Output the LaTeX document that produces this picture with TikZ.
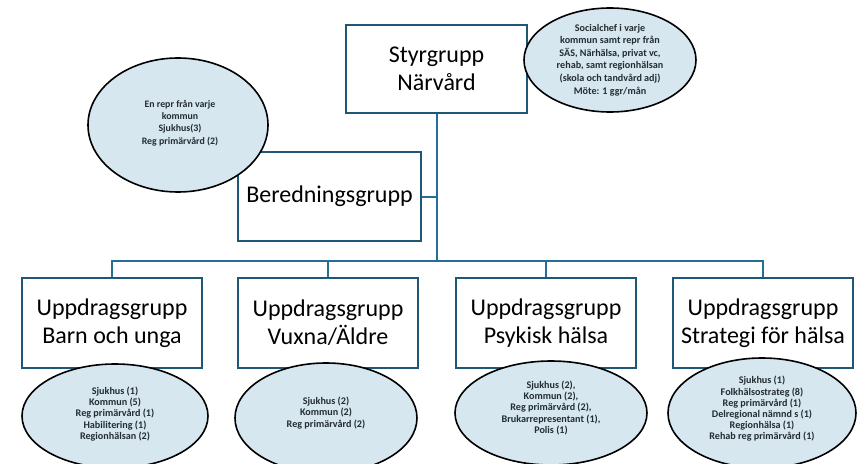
\documentclass[tikz,border=0pt]{standalone}
\usepackage{fontspec}
\setmainfont{Carlito}
\usetikzlibrary{shapes.geometric}

\definecolor{boxblue}{RGB}{30,88,118}
\definecolor{linkblue}{RGB}{38,110,148}
\definecolor{ovalfill}{RGB}{214,231,240}
\definecolor{ovaltext}{RGB}{35,45,50}

\tikzset{every picture/.style={line width=0.75pt}}
\tikzset{
  grpbox/.style={draw=boxblue, line width=1.5pt, fill=white, align=center, inner sep=0pt,
    minimum width=135pt, minimum height=67.5pt, font=\fontsize{18}{21}\selectfont},
  oval/.style={ellipse, draw=black, line width=1.2pt, fill=ovalfill, inner sep=0pt},
  ovallist/.style={align=center, inner sep=0pt, text=ovaltext,
    font=\fontsize{7.6}{8.4}\selectfont\bfseries},
  link/.style={draw=linkblue, line width=1.5pt}
}

\begin{document}
\begin{tikzpicture}[x=0.75pt,y=0.75pt,yscale=-1,xscale=1]
	\useasboundingbox (0,0) rectangle (858,464);

	%Shape: Rectangle [styrgrupp]
	\node [grpbox, minimum width=135.8pt, minimum height=66pt] (styr) at (436.5,69) {Styrgrupp\\Närvård};
	%Shape: Rectangle [beredningsgrupp]
	\node [grpbox, minimum width=137.3pt, minimum height=66.8pt] (bered) at (329.5,196.5) {Beredningsgrupp};
	%Shape: Rectangle [uppdragsgrupper]
	\node [grpbox] (barn) at (112,323) {Uppdragsgrupp\\Barn och unga};
	\node [grpbox] (vuxna) at (328,323) {Uppdragsgrupp\\Vuxna/Äldre};
	\node [grpbox] (psyk) at (546,323) {Uppdragsgrupp\\Psykisk hälsa};
	\node [grpbox] (strat) at (763,323) {Uppdragsgrupp\\Strategi för hälsa};

	%Straight Lines [tree]
	\coordinate (bus) at (436.5,261);
	\draw [link] (styr.south) -- (bus);
	\draw [link] (bered.east) -- (bered.east -| bus);
	\foreach \grp in {barn,vuxna,psyk,strat}
		\draw [link] (\grp.north) |- (bus);

	%Shape: Ellipse [styrgrupp members]
	\node [oval, minimum width=129pt, minimum height=78pt] (styrmed) at (610,60) {};
	\node [ovallist, font=\fontsize{7.6}{9.4}\selectfont\bfseries] (styrtxt) at (styrmed) {Socialchef i varje\\kommun samt repr från\\SÄS, Närhälsa, privat vc,\\rehab, samt regionhälsan\\(skola och tandvård adj)\\Möte: 1 ggr/mån};
	%Shape: Ellipse [beredning members]
	\node [oval, minimum width=135pt, minimum height=100.5pt] (beredmed) at (178,125) {};
	\node [ovallist, font=\fontsize{7.4}{9.2}\selectfont\bfseries] (beredtxt) at (180,123) {En repr från varje\\kommun\\Sjukhus(3)\\Reg primärvård (2)};
	%Shape: Ellipse [uppdrag members]
	\node [oval, minimum width=139.5pt, minimum height=78pt] (barnmed) at (115,416) {};
	\node [ovallist] (barntxt) at (115,414) {Sjukhus (1)\\Kommun (5)\\Reg primärvård (1)\\Habilitering (1)\\Regionhälsan (2)};
	\node [oval, minimum width=136.5pt, minimum height=82.5pt] (vuxnamed) at (326,418) {};
	\node [ovallist] (vuxnatxt) at (326,413) {Sjukhus (2)\\Kommun (2)\\Reg primärvård (2)};
	\node [oval, minimum width=144pt, minimum height=78pt] (psykmed) at (551,413) {};
	\node [ovallist] (psyktxt) at (551,408) {Sjukhus (2),\\Kommun (2),\\Reg primärvård (2),\\Brukarrepresentant (1),\\Polis (1)};
	\node [oval, minimum width=141pt, minimum height=82.5pt] (stratmed) at (762,413) {};
	\node [ovallist] (strattxt) at (762,409) {Sjukhus (1)\\Folkhälsostrateg (8)\\Reg primärvård (1)\\Delregional nämnd s (1)\\Regionhälsa (1)\\Rehab reg primärvård (1)};

\end{tikzpicture}
\end{document}
